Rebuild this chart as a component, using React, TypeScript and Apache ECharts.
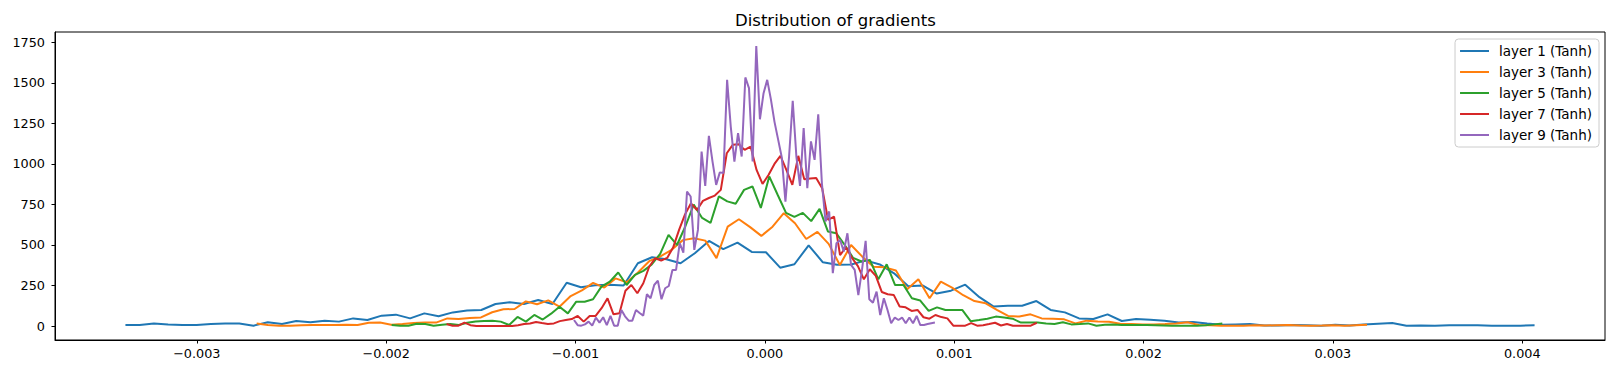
import React, { useEffect, useRef } from "react";
import * as echarts from "echarts";

// Histogram bin positions (first and last left bin edge) for each layer
const seriesNames = ["layer 1 (Tanh)", "layer 3 (Tanh)", "layer 5 (Tanh)", "layer 7 (Tanh)", "layer 9 (Tanh)"];
const seriesColors = ["#1f77b4", "#ff7f0e", "#2ca02c", "#d62728", "#9467bd"];
const binStart = [-0.003377, -0.002684, -0.001971, -0.001681, -0.001008];
const binEnd = [0.004065, 0.00318, 0.002416, 0.001436, 0.000898];

const layer1 = [
  6, 6, 16, 10, 6, 6, 12, 16, 16, 2,
  23, 12, 31, 23, 33, 27, 47, 37, 64, 70,
  47, 78, 60, 84, 95, 99, 136, 146, 136, 160,
  136, 267, 239, 251, 255, 250, 387, 424, 412, 387,
  449, 525, 474, 515, 457, 455, 360, 381, 498, 393,
  378, 380, 405, 380, 325, 245, 250, 200, 218, 255,
  178, 120, 125, 125, 154, 99, 84, 47, 43, 72,
  31, 43, 38, 33, 21, 25, 16, 8, 10, 12,
  3, 3, 6, 4, 2, 8, 3, 10, 14, 18,
  1, 3, 2, 4, 5, 4, 2, 2, 2, 4,
];
const layer3 = [
  16, 6, 2, 2, 5, 6, 6, 6, 8, 6,
  20, 21, 8, 12, 18, 21, 21, 47, 43, 50,
  53, 85, 103, 105, 152, 134, 158, 119, 185, 220,
  266, 237, 294, 270, 330, 400, 430, 470, 530, 541,
  527, 419, 613, 659, 610, 556, 613, 696, 634, 537,
  581, 507, 377, 500, 428, 366, 362, 342, 227, 288,
  171, 274, 237, 190, 154, 140, 100, 62, 58, 72,
  47, 44, 41, 16, 33, 28, 26, 14, 12, 10,
  10, 12, 16, 23, 6, 4, 2, 1, 2, 4,
  3, 5, 6, 3, 2, 3, 5, 2, 5, 8,
];
const layer5 = [
  6, 2, 2, 14, 12, 2, 8, 12, 6, 20,
  28, 31, 33, 27, 6, 56, 27, 68, 40, 76,
  119, 78, 150, 150, 165, 243, 274, 330, 253, 315,
  340, 380, 445, 562, 500, 614, 749, 667, 636, 800,
  769, 754, 840, 861, 729, 923, 810, 698, 673, 698,
  647, 723, 583, 572, 500, 420, 398, 408, 288, 381,
  253, 253, 171, 157, 93, 115, 99, 99, 99, 30,
  37, 45, 58, 52, 45, 21, 21, 21, 15, 12,
  23, 10, 12, 16, 2, 8, 10, 6, 6, 6,
  6, 5, 3, 1, 2, 2, 2, 5, 10, 16,
];
const layer7 = [
  12, 2, 2, 21, 5, 0, 0, 0, 0, 0,
  0, 0, 5, 12, 16, 25, 18, 12, 16, 30,
  37, 43, 62, 27, 62, 62, 110, 171, 72, 78,
  218, 253, 202, 264, 367, 418, 404, 420, 484, 593,
  689, 757, 716, 772, 790, 805, 840, 1066, 1118, 1122,
  1087, 1107, 963, 877, 932, 1000, 1050, 964, 871, 1050,
  906, 910, 913, 850, 655, 675, 438, 486, 420, 370,
  288, 350, 309, 210, 196, 192, 120, 115, 93, 99,
  54, 45, 68, 55, 47, 2, 2, 2, 18, 2,
  5, 12, 20, 3, 12, 2, 2, 2, 2, 20,
];
const layer9 = [
  37, 5, 2, 10, 27, 2, 52, 21, 54, 5,
  62, 2, 2, 99, 60, 33, 33, 99, 80, 64,
  196, 171, 253, 280, 165, 233, 247, 346, 346, 511,
  453, 830, 799, 470, 593, 1077, 865, 1174, 1015, 871,
  948, 944, 1519, 1231, 1015, 1190, 1046, 1534, 1468, 1015,
  1728, 1276, 1437, 1519, 1400, 1260, 1150, 1040, 768, 1046,
  1390, 1046, 865, 1221, 850, 1139, 1025, 1307, 881, 645,
  707, 326, 511, 531, 460, 572, 377, 346, 191, 346,
  525, 165, 144, 212, 68, 171, 99, 17, 52, 37,
  52, 17, 52, 17, 62, 6, 6, 12, 17, 21,
];
const layerValues = [layer1, layer3, layer5, layer7, layer9];

const xTicks = [-0.003, -0.002, -0.001, 0, 0.001, 0.002, 0.003, 0.004];
const yTicks = [0, 250, 500, 750, 1000, 1250, 1500, 1750];
const xMin = -0.003749;
const xMax = 0.004437;
const yMin = -86.4;
const yMax = 1814.4;

const FONT = "DejaVu Sans";

export default function App() {
  const ref = useRef<HTMLDivElement>(null);
  useEffect(() => {
    if (!ref.current) return;
    const chart = echarts.init(ref.current, undefined, { renderer: "svg" });
    const series = layerValues.map((vals, k) => {
      const step = (binEnd[k] - binStart[k]) / (vals.length - 1);
      return {
        name: seriesNames[k],
        type: "line",
        showSymbol: false,
        symbol: "none",
        data: vals.map((v, i) => [binStart[k] + i * step, v]),
        lineStyle: { color: seriesColors[k], width: 2 },
        itemStyle: { color: seriesColors[k] },
        emphasis: { disabled: true },
      };
    });
    chart.setOption({
      animation: false,
      backgroundColor: "#ffffff",
      title: {
        text: "Distribution of gradients",
        left: 730,
        top: 7,
        textStyle: { fontFamily: FONT, fontSize: 16.5, fontWeight: "normal", color: "#000" },
      },
      legend: {
        orient: "vertical",
        right: 15,
        top: 39,
        icon: "rect",
        itemWidth: 29,
        itemHeight: 2,
        itemGap: 7,
        padding: [5, 7, 5, 5],
        borderColor: "#cccccc",
        borderWidth: 1,
        borderRadius: 3.5,
        backgroundColor: "rgba(255,255,255,0.8)",
        textStyle: { fontFamily: FONT, fontSize: 13.5, color: "#000", lineHeight: 14, padding: [0, 0, 0, 5] },
        data: seriesNames,
      },
      grid: {
        left: 55,
        right: 9,
        top: 32,
        bottom: 34,
        show: true,
        borderColor: "#000",
        borderWidth: 1,
        backgroundColor: "transparent",
      },
      xAxis: {
        type: "value",
        min: xMin,
        max: xMax,
        splitLine: { show: false },
        axisLine: { show: true, onZero: false, lineStyle: { color: "#000", width: 1 } },
        axisTick: { show: true, length: 3.5, lineStyle: { color: "#000", width: 1 }, customValues: xTicks },
        axisLabel: {
          customValues: xTicks,
          margin: 7,
          color: "#000",
          fontFamily: FONT,
          fontSize: 12.8,
          formatter: (v: number) => (v < 0 ? "\u2212" : "") + Math.abs(v).toFixed(3),
        },
      },
      yAxis: {
        type: "value",
        min: yMin,
        max: yMax,
        splitLine: { show: false },
        axisLine: { show: true, onZero: false, lineStyle: { color: "#000", width: 1 } },
        axisTick: { show: true, length: 3.5, lineStyle: { color: "#000", width: 1 }, customValues: yTicks },
        axisLabel: {
          customValues: yTicks,
          margin: 10,
          color: "#000",
          fontFamily: FONT,
          fontSize: 12.8,
          formatter: (v: number) => String(Math.round(v)),
        },
      },
      series,
    });
    return () => chart.dispose();
  }, []);
  return (
    <div
      ref={ref}
      style={{ position: "absolute", left: 0, top: 0, width: 1614, height: 374, background: "#fff" }}
    />
  );
}
